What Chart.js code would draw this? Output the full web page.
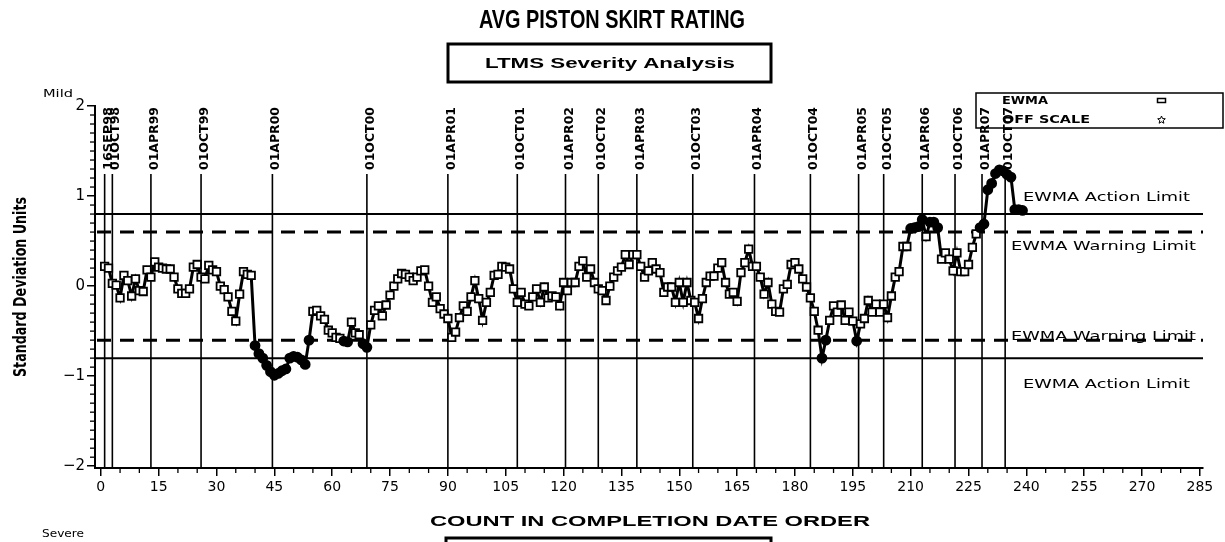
<!DOCTYPE html>
<html><head><meta charset="utf-8">
<script src="https://cdn.jsdelivr.net/npm/chart.js@4.4.0/dist/chart.umd.min.js"></script>
<style>html,body{margin:0;padding:0;background:#fff;overflow:hidden}#wrap{width:1225px;height:542px;position:relative}canvas{display:block}</style>
</head><body><div id="wrap"><canvas id="c" width="1225" height="542"></canvas></div>
<script>
// ---- data ----
const ewmaValues = [
 0.22, 0.20, 0.03, 0.01,-0.13, 0.12, 0.06,-0.11, 0.08,-0.05,
-0.06, 0.18, 0.10, 0.27, 0.21, 0.20, 0.19, 0.19, 0.10,-0.03,
-0.08,-0.08,-0.03, 0.21, 0.24, 0.10, 0.08, 0.23, 0.18, 0.16,
 0.00,-0.04,-0.12,-0.28,-0.39,-0.09, 0.16, 0.13, 0.12,-0.66,
-0.75,-0.80,-0.88,-0.95,-0.99,-0.97,-0.94,-0.92,-0.80,-0.78,
-0.79,-0.82,-0.87,-0.60,-0.28,-0.27,-0.33,-0.37,-0.49,-0.52,
-0.57,-0.58,-0.61,-0.62,-0.40,-0.52,-0.54,-0.64,-0.68,-0.43,
-0.27,-0.22,-0.33,-0.21,-0.10, 0.00, 0.08, 0.14, 0.13, 0.10,
 0.06, 0.10, 0.17, 0.18, 0.00,-0.18,-0.12,-0.25,-0.31,-0.36,
-0.57,-0.51,-0.35,-0.22,-0.28,-0.12, 0.06,-0.14,-0.38,-0.18,
-0.07, 0.12, 0.13, 0.22, 0.21, 0.19,-0.03,-0.18,-0.07,-0.20,
-0.22,-0.12,-0.03,-0.18,-0.01,-0.13,-0.11,-0.12,-0.22, 0.04,
-0.05, 0.04, 0.04, 0.22, 0.28, 0.10, 0.19, 0.04,-0.03,-0.05,
-0.16, 0.00, 0.10, 0.17, 0.21, 0.35, 0.24, 0.35, 0.35, 0.22,
 0.10, 0.17, 0.26, 0.19, 0.15,-0.07,-0.01,-0.01,-0.18, 0.04,
-0.18, 0.04,-0.16,-0.18,-0.36,-0.14, 0.04, 0.11, 0.11, 0.20,
 0.26, 0.04,-0.09,-0.07,-0.17, 0.15, 0.26, 0.41, 0.22, 0.22,
 0.10,-0.09, 0.04,-0.20,-0.28,-0.29,-0.03, 0.02, 0.24, 0.26,
 0.19, 0.08,-0.01,-0.13,-0.28,-0.49,-0.80,-0.60,-0.38,-0.22,
-0.29,-0.21,-0.38,-0.29,-0.39,-0.61,-0.42,-0.36,-0.16,-0.29,
-0.20,-0.29,-0.20,-0.35,-0.11, 0.10, 0.16, 0.44, 0.44, 0.64,
 0.65, 0.66, 0.74, 0.55, 0.71, 0.71, 0.65, 0.30, 0.37, 0.30,
 0.17, 0.37, 0.16, 0.16, 0.24, 0.43, 0.58, 0.65, 0.69, 1.07,
 1.14, 1.25, 1.29, 1.28, 1.24, 1.21, 0.85, 0.85, 0.84
];
const testCounts = ewmaValues.map((_, i) => i + 1);
const dateLabels = ['16SEP98','01OCT98','01APR99','01OCT99','01APR00','01OCT00','01APR01','01OCT01','01APR02','01OCT02',
  '01APR03','01OCT03','01APR04','01OCT04','01APR05','01OCT05','01APR06','01OCT06','01APR07','01OCT07'];
const datePositions = [1, 3, 13, 26, 44.5, 69, 90, 108, 120.5, 129, 139, 153.5, 169.5, 184, 196.5, 203, 213, 221.5, 228.5, 234.5];
const xTicks = [0,15,30,45,60,75,90,105,120,135,150,165,180,195,210,225,240,255,270,285];
const yTicks = [-2,-1,0,1,2];
const actionLimit = 0.8;
const warningLimit = 0.6;

// ---- helpers ----
function fitText(ctx, text, x, y, width, font, align, rot) {
  ctx.save();
  ctx.font = font;
  const w = ctx.measureText(text).width;
  ctx.translate(x, y);
  if (rot) ctx.rotate(rot);
  ctx.scale(width / w, 1);
  ctx.textAlign = align || 'left';
  ctx.textBaseline = 'alphabetic';
  ctx.fillStyle = '#000';
  ctx.fillText(text, 0, 0);
  ctx.restore();
}

const deco = {
  id: 'deco',
  beforeDatasetsDraw(chart) {
    const ctx = chart.ctx, xs = chart.scales.x, ys = chart.scales.y, a = chart.chartArea;
    ctx.save();
    ctx.strokeStyle = '#000';
    [actionLimit, -actionLimit].forEach(v => {
      const y = ys.getPixelForValue(v);
      ctx.lineWidth = 2; ctx.setLineDash([]);
      ctx.beginPath(); ctx.moveTo(a.left, y); ctx.lineTo(a.right, y); ctx.stroke();
    });
    [warningLimit, -warningLimit].forEach(v => {
      const y = ys.getPixelForValue(v);
      ctx.lineWidth = 3; ctx.setLineDash([14, 9]);
      ctx.beginPath(); ctx.moveTo(a.left + 2, y); ctx.lineTo(a.right, y); ctx.stroke();
    });
    ctx.setLineDash([]);
    datePositions.forEach((p, i) => {
      const x = xs.getPixelForValue(p);
      ctx.lineWidth = 1.6;
      ctx.beginPath(); ctx.moveTo(x, 174); ctx.lineTo(x, a.bottom); ctx.stroke();
      fitText(ctx, dateLabels[i], x + 7, 170, 63, 'bold 13px "Liberation Sans Narrow","DejaVu Sans Condensed",sans-serif', 'left', -Math.PI / 2);
    });
    ctx.restore();
  },
  afterDraw(chart) {
    const ctx = chart.ctx, xs = chart.scales.x, ys = chart.scales.y, a = chart.chartArea;
    ctx.save();
    ctx.strokeStyle = '#000'; ctx.lineWidth = 1.3;
    for (let v = -20; v <= 20; v++) {
      if (v % 10 === 0) continue;
      const y = ys.getPixelForValue(v / 10);
      ctx.beginPath(); ctx.moveTo(a.left - 5, y); ctx.lineTo(a.left, y); ctx.stroke();
    }
    for (let v = 5; v < 285; v += 5) {
      if (v % 15 === 0) continue;
      const x = xs.getPixelForValue(v);
      ctx.beginPath(); ctx.moveTo(x, a.bottom); ctx.lineTo(x, a.bottom + 5); ctx.stroke();
    }
    fitText(ctx, 'AVG PISTON SKIRT RATING', 612, 28, 266, 'bold 25px "Liberation Sans Narrow","Liberation Sans",sans-serif', 'center');
    ctx.lineWidth = 3;
    ctx.strokeRect(448, 44, 323, 38);
    fitText(ctx, 'LTMS Severity Analysis', 610, 68, 250, 'bold 15px "Liberation Sans",sans-serif', 'center');
    fitText(ctx, 'COUNT IN COMPLETION DATE ORDER', 650, 526, 440, 'bold 14px "Liberation Sans",sans-serif', 'center');
    ctx.lineWidth = 3;
    ctx.strokeRect(446, 538, 325, 30);
    fitText(ctx, 'Standard Deviation Units', 26, 287, 180, 'bold 18px "Liberation Sans Narrow","DejaVu Sans Condensed",sans-serif', 'center', -Math.PI / 2);
    fitText(ctx, 'Mild', 43, 97, 30, '11px "DejaVu Sans",sans-serif', 'left');
    fitText(ctx, 'Severe', 42, 537, 42, '11px "DejaVu Sans",sans-serif', 'left');
    const lf = '13px "DejaVu Sans",sans-serif';
    fitText(ctx, 'EWMA Action Limit', 1023, 201, 167, lf, 'left');
    fitText(ctx, 'EWMA Warning Limit', 1011, 250, 185, lf, 'left');
    fitText(ctx, 'EWMA Warning Limit', 1011, 340, 185, lf, 'left');
    fitText(ctx, 'EWMA Action Limit', 1023, 388, 167, lf, 'left');
    // legend (unfilled, labels show through)
    ctx.lineWidth = 1.5;
    ctx.strokeRect(976, 93, 247, 35);
    fitText(ctx, 'EWMA', 1002, 104, 46, 'bold 10px "DejaVu Sans",sans-serif', 'left');
    fitText(ctx, 'OFF SCALE', 1002, 123, 88, 'bold 10px "DejaVu Sans",sans-serif', 'left');
    ctx.lineWidth = 1.5;
    ctx.strokeRect(1157.5, 98.5, 8, 4);
    ctx.beginPath();
    const cx = 1161.5, cy = 120, R = 4, r = 1.8;
    for (let k = 0; k < 10; k++) {
      const ang = -Math.PI / 2 + k * Math.PI / 5;
      const rr = k % 2 === 0 ? R : r;
      const px = cx + rr * Math.cos(ang), py = cy + rr * Math.sin(ang);
      k === 0 ? ctx.moveTo(px, py) : ctx.lineTo(px, py);
    }
    ctx.closePath(); ctx.lineWidth = 1; ctx.stroke();
    ctx.restore();
  }
};

const points = testCounts.map((c, i) => ({ x: c, y: ewmaValues[i] }));
const isOut = v => Math.abs(v) >= warningLimit;

new Chart(document.getElementById('c'), {
  type: 'line',
  data: {
    datasets: [{
      data: points,
      borderColor: '#000',
      borderWidth: 3,
      tension: 0,
      pointStyle: c => isOut(c.raw.y) ? 'circle' : 'rect',
      pointRadius: c => isOut(c.raw.y) ? 4.5 : 5.3,
      pointBackgroundColor: c => isOut(c.raw.y) ? '#000' : '#fff',
      pointBorderColor: '#000',
      pointBorderWidth: 1.8
    }]
  },
  options: {
    responsive: false,
    animation: false,
    devicePixelRatio: 1,
    layout: { padding: { top: 106, right: 22, left: 0, bottom: 0 } },
    plugins: { legend: { display: false }, title: { display: false }, tooltip: { enabled: false } },
    events: [],
    scales: {
      x: {
        type: 'linear', min: -1.5, max: 285.8,
        afterBuildTicks: s => { s.ticks = xTicks.map(v => ({ value: v })); },
        afterFit: s => { s.height = 74; },
        grid: { display: true, drawOnChartArea: false, drawTicks: true, tickLength: 8, color: '#000', lineWidth: 1.5 },
        border: { display: true, color: '#000', width: 2 },
        ticks: { color: '#000', font: { family: 'DejaVu Sans', size: 14 }, padding: 3, maxRotation: 0, autoSkip: false }
      },
      y: {
        type: 'linear', min: -2.02, max: 2,
        afterBuildTicks: s => { s.ticks = yTicks.map(v => ({ value: v })); },
        afterFit: s => { s.width = 95; },
        grid: { display: true, drawOnChartArea: false, drawTicks: true, tickLength: 8, color: '#000', lineWidth: 1.5 },
        border: { display: true, color: '#000', width: 2 },
        ticks: { color: '#000', font: { family: 'DejaVu Sans', size: 15 }, padding: 2,
          callback: v => (v < 0 ? '\u2212' + Math.abs(v) : String(v)) }
      }
    }
  },
  plugins: [deco]
});
</script>
</body></html>
